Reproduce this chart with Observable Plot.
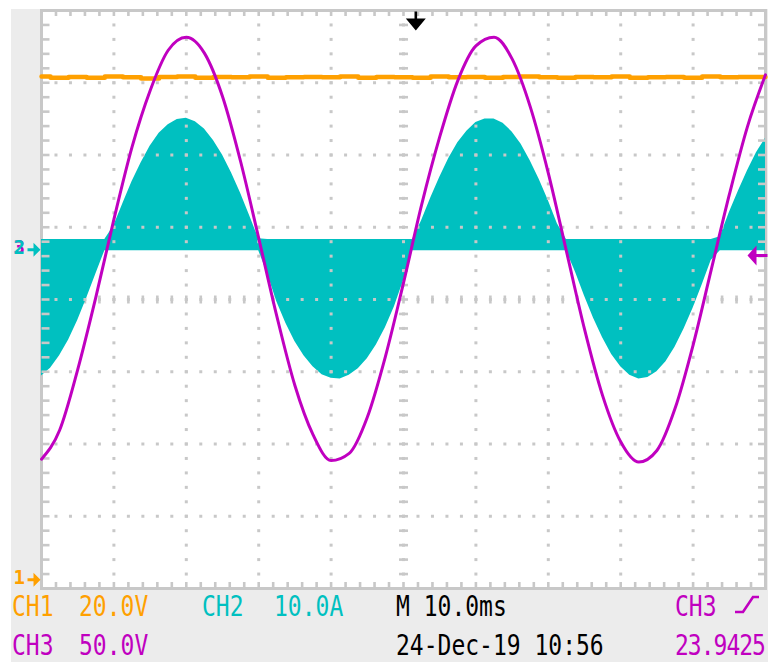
<!DOCTYPE html>
<html><head><meta charset="utf-8">
<script src="https://cdn.jsdelivr.net/npm/d3@7"></script>
<script src="https://cdn.jsdelivr.net/npm/@observablehq/plot@0.6"></script>
<style>
html,body{margin:0;padding:0;background:#fff;}
#wrap{position:relative;width:770px;height:662px;overflow:hidden;background:#fff;}
#panel{position:absolute;left:11px;top:9px;width:757px;height:653px;background:#ececec;}
#chart{position:absolute;left:0;top:0;}
.lbl{position:absolute;font-family:"DejaVu Sans Mono",monospace;font-size:23px;line-height:18px;white-space:pre;transform:scaleY(1.25);transform-origin:0 0;}
</style></head><body>
<div id="wrap"><div id="panel"></div><div id="chart"></div><div id="labels"></div></div>
<script>
// ---- channel settings ----
const channelNames = ["CH1", "CH2", "CH3"];
const channelScaleText = ["20.0V", "10.0A", "50.0V"];
const unitsPerDiv = [20, 10, 50];
const groundDiv = [-3.88, 0.69, 0.69];
const timebaseText = "M 10.0ms";
const dateText = "24-Dec-19 10:56";
const triggerSource = "CH3";
const triggerFreqText = "23.9425";
const triggerTimeMs = 51.7;
const triggerLevelV = -4;
const msPerDiv = 10;

// ---- CH3 voltage (V), sampled every 2.5 ms ----
const traceStepMs = 2.5;
const ch3Volts = [-145, -125, -83, -33, 21, 71, 110, 138, 147, 136, 106, 61, 8, -46, -94, -128, -146, -141, -116, -74, -23, 31, 78, 117, 141, 147, 132, 99, 53, -1, -55, -101, -133, -147, -139, -110, -66, -14, 38, 85, 121];
// ---- CH1 DC voltage (V), sampled every 2.5 ms ----
const ch1Volts = [139.3, 139.0, 139.2, 139.0, 139.3, 139.1, 138.8, 139.2, 139.3, 139.0, 139.2, 139.1, 139.3, 139.0, 139.1, 139.2, 139.1, 139.3, 139.0, 139.2, 139.1, 139.0, 139.3, 139.1, 139.2, 139.0, 139.2, 139.3, 139.1, 139.0, 139.2, 139.1, 139.3, 139.0, 139.1, 139.2, 139.0, 139.3, 139.1, 139.2, 139.2];
// ---- CH2 current envelope (A), sampled every 1.25 ms ----
const envStepMs = 1.25;
const ch2High = [1.4, 1.4, 1.4, 1.4, 1.4, 1.4, 1.4, 1.4,
  3.3, 6.4, 9.4, 12.0, 14.3, 16.1, 17.3, 18.0, 18.2, 17.7, 16.7, 15.1, 13.1, 10.6, 7.8, 4.7, 1.5,
  1.4, 1.4, 1.4, 1.4, 1.4, 1.4, 1.4, 1.4, 1.4, 1.4, 1.4, 1.4, 1.4, 1.4, 1.4, 1.4, 1.4,
  4.0, 7.1, 10.0, 12.6, 14.8, 16.4, 17.6, 18.1, 18.1, 17.5, 16.3, 14.6, 12.3, 9.7, 6.8, 3.6,
  1.4, 1.4, 1.4, 1.4, 1.4, 1.4, 1.4, 1.4, 1.4, 1.4, 1.4, 1.4, 1.4, 1.4, 1.4, 1.4, 1.4,
  1.8, 5.1, 8.1, 10.9, 13.4, 15.4];
const ch2Low = [-17.5, -16.4, -14.7, -12.5, -9.8, -6.7, -3.4,
  -0.15, -0.15, -0.15, -0.15, -0.15, -0.15, -0.15, -0.15, -0.15, -0.15, -0.15, -0.15, -0.15, -0.15, -0.15, -0.15, -0.15, -0.15,
  -3.4, -7.2, -10.2, -12.7, -14.7, -16.2, -17.3, -17.8, -17.9, -17.4, -16.5, -15.1, -13.2, -10.8, -7.9, -4.3,
  -0.15, -0.15, -0.15, -0.15, -0.15, -0.15, -0.15, -0.15, -0.15, -0.15, -0.15, -0.15, -0.15, -0.15, -0.15, -0.15, -0.15, -0.15,
  -3.1, -6.4, -9.5, -12.2, -14.5, -16.2, -17.4, -17.9, -17.7, -16.9, -15.5, -13.5, -11.0, -8.1, -4.9, -1.5,
  -0.15, -0.15, -0.15, -0.15, -0.15, -0.15];

const orange = "#ffa000", cyan = "#00c0c0", magenta = "#c000c0", gridC = "#c8c8c8";
const chColors = [orange, cyan, magenta];

const toDiv = (v, k) => groundDiv[k] + v / unitsPerDiv[k];
const ch1 = ch1Volts.map((v, i) => ({t: i * traceStepMs, y: toDiv(v, 0)}));
const ch3 = ch3Volts.map((v, i) => ({t: i * traceStepMs, y: toDiv(v, 2)}));
const ch2 = ch2High.map((v, i) => ({t: i * envStepMs, hi: toDiv(v, 1), lo: toDiv(ch2Low[i], 1)}));

// graticule
const minorT = d3.range(1, 50).map(k => k * msPerDiv / 5);
const minorY = d3.range(-19, 20).map(k => k / 5);
const majorT = d3.range(1, 10).map(k => k * msPerDiv);
const majorY = [-3, -2, -1, 0, 1, 2, 3];
const gridDots = [...majorT.flatMap(t => minorY.map(y => ({t, y}))), ...majorY.flatMap(y => minorT.map(t => ({t, y})))];
const centerH = minorT.map(t => ({t, y: 0}));
const centerV = minorY.map(y => ({t: 5 * msPerDiv, y}));
const topTicks = minorT.map(t => ({t, y: 4}));
const bottomTicks = minorT.map(t => ({t, y: -4}));
const leftTicks = minorY.map(y => ({t: 0, y}));
const rightTicks = minorY.map(y => ({t: 10 * msPerDiv, y}));

const sym = (f) => ({draw(c) { f(c); }});
const sq = sym(c => c.rect(-1.5, -1.5, 3, 3));
const vDash = sym(c => c.rect(-1.3, -4, 2.6, 8));
const hDash = sym(c => c.rect(-4.5, -1.3, 9, 2.6));
const tickDown = sym(c => c.rect(-1.3, 0, 2.6, 5.5));
const tickUp = sym(c => c.rect(-1.3, -6.5, 2.6, 6.5));
const tickRight = sym(c => c.rect(0, -1.3, 8, 2.6));
const tickLeft = sym(c => c.rect(-7.5, -1.3, 7.5, 2.6));
const arrowRight = sym(c => {c.rect(-13, -1.5, 7, 3); c.moveTo(-7, -7); c.lineTo(0, 0); c.lineTo(-7, 7); c.closePath();});
const arrowDown = sym(c => {c.rect(-1.3, 1, 2.6, 8); c.moveTo(-10, 8); c.lineTo(10, 8); c.lineTo(0, 20); c.closePath();});
const arrowLeft = sym(c => {c.rect(-10, -1.5, 12, 3); c.moveTo(-18, 0); c.lineTo(-9, -10); c.lineTo(-9, 10); c.closePath();});

const sq0 = {fill: gridC, stroke: "none", r: 1};
const markerFont = {fontSize: 19, fontFamily: "DejaVu Sans Mono", fontWeight: "bold", dy: -2};

const chart = Plot.plot({
  width: 770, height: 662,
  marginLeft: 41, marginRight: 5, marginTop: 10, marginBottom: 74,
  x: {domain: [0, 10 * msPerDiv], axis: null},
  y: {domain: [-4, 4], axis: null},
  style: {background: "transparent", overflow: "visible"},
  marks: [
    Plot.frame({fill: "white", stroke: gridC, strokeWidth: 3}),
    Plot.dot(centerH, {x: "t", y: "y", symbol: vDash, ...sq0}),
    Plot.dot(centerV, {x: "t", y: "y", symbol: hDash, ...sq0}),
    Plot.areaY(ch2, {x: "t", y1: "lo", y2: "hi", fill: cyan, curve: "linear"}),
    Plot.dot(gridDots, {x: "t", y: "y", symbol: sq, ...sq0}),
    Plot.dot(topTicks, {x: "t", y: "y", symbol: tickDown, ...sq0}),
    Plot.dot(bottomTicks, {x: "t", y: "y", symbol: tickUp, ...sq0}),
    Plot.dot(leftTicks, {x: "t", y: "y", symbol: tickRight, ...sq0}),
    Plot.dot(rightTicks, {x: "t", y: "y", symbol: tickLeft, ...sq0}),
    Plot.line(ch1, {x: "t", y: "y", stroke: orange, strokeWidth: 4.5, curve: "step"}),
    Plot.line(ch3, {x: "t", y: "y", stroke: magenta, strokeWidth: 3, curve: "monotone-x"}),
    // channel ground markers
    Plot.text([{y: groundDiv[2], s: "3"}], {frameAnchor: "left", y: "y", text: "s", dx: -28, textAnchor: "start", fill: magenta, ...markerFont}),
    Plot.text([{y: groundDiv[0], s: "1", c: orange}, {y: groundDiv[1], s: "2", c: cyan}], {frameAnchor: "left", y: "y", text: "s", dx: -28, textAnchor: "start", fill: d => d.c, ...markerFont}),
    Plot.dot([{y: groundDiv[0], c: orange}, {y: groundDiv[1], c: cyan}], {frameAnchor: "left", y: "y", dx: -1, symbol: arrowRight, fill: d => d.c, stroke: "none", r: 1}),
    // trigger markers
    Plot.dot([{t: triggerTimeMs}], {x: "t", frameAnchor: "top", symbol: arrowDown, fill: "black", stroke: "none", r: 1}),
    Plot.dot([{y: toDiv(triggerLevelV, 2)}], {y: "y", frameAnchor: "right", symbol: arrowLeft, fill: magenta, stroke: "none", r: 1})
  ]
});
document.getElementById("chart").appendChild(chart);

// status bar
const L = document.getElementById("labels");
const rowTop = [594.5, 634.3];
function addLabel(text, color, x, row, extra) {
  const s = document.createElement("div");
  s.className = "lbl"; s.textContent = text; s.style.color = color;
  s.style.left = (x - 2) + "px"; s.style.top = rowTop[row] + "px";
  if (extra) Object.assign(s.style, extra);
  L.appendChild(s);
}
addLabel(channelNames[0], chColors[0], 14, 0);
addLabel(channelScaleText[0], chColors[0], 81, 0);
addLabel(channelNames[1], chColors[1], 204, 0);
addLabel(channelScaleText[1], chColors[1], 276, 0);
addLabel(timebaseText, "#000", 398, 0);
addLabel(triggerSource, magenta, 677, 0);
addLabel(channelNames[2], chColors[2], 14, 1);
addLabel(channelScaleText[2], chColors[2], 81, 1);
addLabel(dateText, "#000", 398, 1);
addLabel(triggerFreqText, magenta, 677, 1, {letterSpacing: "-1px"});
const edge = document.createElementNS("http://www.w3.org/2000/svg", "svg");
edge.setAttribute("width", "26"); edge.setAttribute("height", "22");
edge.style.position = "absolute"; edge.style.left = "734px"; edge.style.top = "594px";
edge.innerHTML = `<polyline points="1,18 9,18 19,3 25,3" fill="none" stroke="${magenta}" stroke-width="2.6"/>`;
L.appendChild(edge);
</script>
</body></html>
